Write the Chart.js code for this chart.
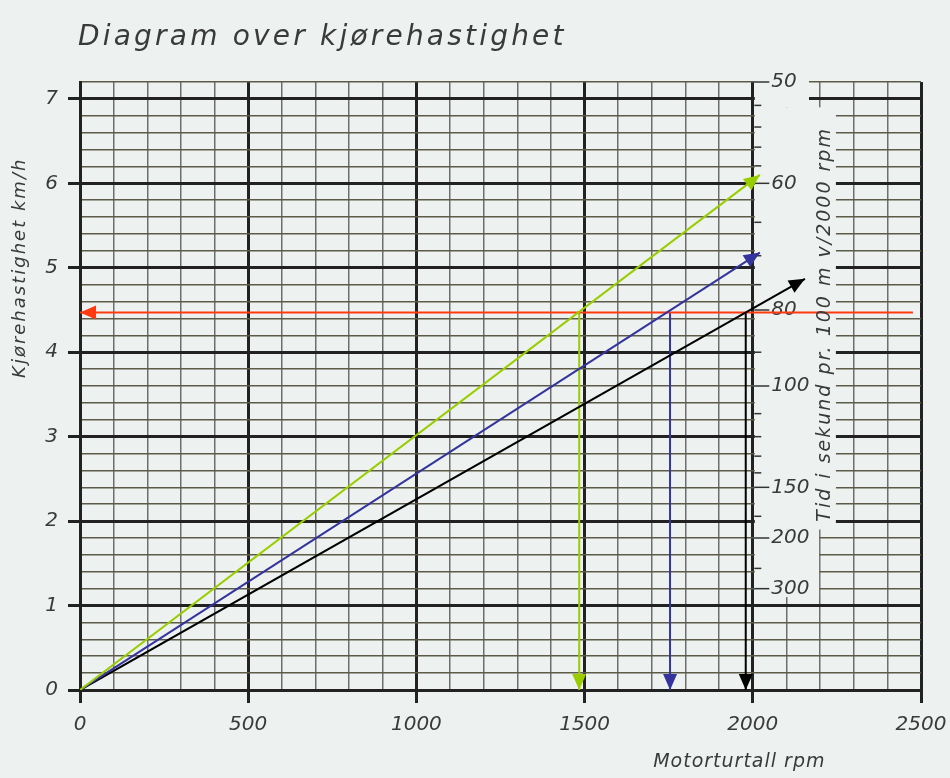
<!DOCTYPE html>
<html>
<head>
<meta charset="utf-8">
<script src="https://cdn.jsdelivr.net/npm/chart.js@4.4.1/dist/chart.umd.min.js"></script>
<style>
html, body { margin: 0; padding: 0; background: #edf2f1; }
canvas { display: block; }
</style>
</head>
<body>
<canvas id="chart" width="950" height="778"></canvas>
<script>
// axis ticks
const rpmLabels = [0, 500, 1000, 1500, 2000, 2500];
const speedLabels = [0, 1, 2, 3, 4, 5, 6, 7];

// right hand scale: seconds per 100 m at 2000 rpm
const timeLabels = [50, 60, 80, 100, 150, 200, 300];
const timeMarks = [52, 54, 56, 58, 65, 70, 75, 90, 110, 120, 130, 140, 175, 250];

// lines (rpm, km/h)
const greenX = [0, 2021];
const greenY = [0, 6.1];
const blueX = [0, 2021];
const blueY = [0, 5.18];
const blackX = [0, 2155];
const blackY = [0, 4.87];
const redX = [2476, 0];
const redY = [4.47, 4.47];
const greenDropX = [1484, 1484];
const blueDropX = [1754, 1754];
const blackDropX = [1979, 1979];
const dropY = [4.47, 0];

const bg = '#edf2f1';
const textColor = '#3a3a3a';
const fontFamily = '"DejaVu Sans", sans-serif';

const toPoints = (xs, ys) => xs.map((v, i) => ({ x: v, y: ys[i] }));
const isWhole = (v, step) => Math.abs(v / step - Math.round(v / step)) < 1e-6;

function lineSet(xs, ys, color) {
    return {
        data: toPoints(xs, ys),
        showLine: true,
        borderColor: color,
        backgroundColor: color,
        borderWidth: 2,
        pointRadius: 0
    };
}

// blank the band right of 2000 rpm where the time scale sits, then draw that scale
const gapPlugin = {
    id: 'gap',
    beforeDatasetsDraw(chart) {
        const { ctx, scales: { x, y } } = chart;
        const left = x.getPixelForValue(2000) + 2;
        ctx.save();
        ctx.fillStyle = bg;
        const blank = (xEnd, yLow, yHigh) => {
            const right = x.getPixelForValue(xEnd) - 1;
            const top = y.getPixelForValue(yHigh);
            const bottom = y.getPixelForValue(yLow);
            ctx.fillRect(left, top, right - left, bottom - top);
        };
        blank(2250, 1.9, 6.9);
        blank(2200, 1.1, 1.9);
        blank(2170, 6.9, 7.3);

        const xr = x.getPixelForValue(2000) + 1.5;
        ctx.strokeStyle = '#333';
        ctx.lineWidth = 1.5;
        timeMarks.forEach(t => {
            const py = y.getPixelForValue(360 / t);
            ctx.beginPath(); ctx.moveTo(xr, py); ctx.lineTo(xr + 7, py); ctx.stroke();
        });
        ctx.font = 'italic 20px ' + fontFamily;
        ctx.fillStyle = textColor;
        ctx.textAlign = 'left';
        ctx.textBaseline = 'middle';
        timeLabels.forEach(t => {
            const py = y.getPixelForValue(360 / t);
            ctx.beginPath(); ctx.moveTo(xr, py); ctx.lineTo(xr + 15, py); ctx.stroke();
            ctx.fillText(String(t), xr + 17, py);
        });
        ctx.restore();
    },
    afterDraw(chart) {
        const { ctx, scales: { x, y } } = chart;
        ctx.save();
        ctx.fillStyle = textColor;
        ctx.textBaseline = 'middle';

        // main title
        ctx.font = 'italic 28px ' + fontFamily;
        ctx.letterSpacing = '3.2px';
        ctx.textAlign = 'left';
        ctx.fillText('Diagram over kjørehastighet', 78, 38);

        // x axis title
        ctx.font = 'italic 19px ' + fontFamily;
        ctx.letterSpacing = '1px';
        ctx.textAlign = 'center';
        ctx.fillText('Motorturtall rpm', x.getPixelForValue(1960), 762);

        // left axis title
        ctx.save();
        ctx.translate(20, y.getPixelForValue(5.0));
        ctx.rotate(-Math.PI / 2);
        ctx.font = 'italic 18px ' + fontFamily;
        ctx.letterSpacing = '2px';
        ctx.fillText('Kjørehastighet km/h', 0, 0);
        ctx.restore();

        // right axis title
        ctx.save();
        ctx.translate(x.getPixelForValue(2215), y.getPixelForValue(4.33));
        ctx.rotate(-Math.PI / 2);
        ctx.font = 'italic 19px ' + fontFamily;
        ctx.letterSpacing = '2px';
        ctx.fillText('Tid i sekund pr. 100 m v/2000 rpm', 0, 0);
        ctx.restore();

        ctx.restore();
    }
};

// filled arrow head at the last point of every line
const arrowPlugin = {
    id: 'arrows',
    afterDatasetsDraw(chart) {
        const ctx = chart.ctx;
        chart.data.datasets.forEach((ds, i) => {
            const pts = chart.getDatasetMeta(i).data;
            const a = pts[pts.length - 2];
            const b = pts[pts.length - 1];
            const ang = Math.atan2(b.y - a.y, b.x - a.x);
            ctx.save();
            ctx.translate(b.x, b.y);
            ctx.rotate(ang);
            ctx.beginPath();
            ctx.moveTo(0, 0);
            ctx.lineTo(-16, -7);
            ctx.lineTo(-16, 7);
            ctx.closePath();
            ctx.fillStyle = ds.borderColor;
            ctx.fill();
            ctx.restore();
        });
    }
};

new Chart(document.getElementById('chart'), {
    type: 'scatter',
    data: {
        datasets: [
            lineSet(greenX, greenY, '#9acd00'),
            lineSet(blueX, blueY, '#34349c'),
            lineSet(blackX, blackY, '#000000'),
            lineSet(redX, redY, '#ff3a12'),
            lineSet(greenDropX, dropY, '#9acd00'),
            lineSet(blueDropX, dropY, '#34349c'),
            lineSet(blackDropX, dropY, '#000000')
        ]
    },
    options: {
        responsive: false,
        animation: false,
        layout: { padding: { top: 82, right: 29, left: 0, bottom: 0 } },
        plugins: {
            legend: { display: false },
            tooltip: { enabled: false }
        },
        scales: {
            x: {
                type: 'linear',
                min: rpmLabels[0],
                max: rpmLabels[rpmLabels.length - 1],
                afterFit: scale => {
                    scale.height = 88;
                    scale.paddingRight = 0;
                    scale.paddingLeft = 0;
                },
                border: { display: true, color: '#222', width: 3 },
                grid: {
                    color: c => isWhole(c.tick.value, 500) ? '#222' : '#6e6e6e',
                    lineWidth: c => isWhole(c.tick.value, 500) ? 3 : 1.5,
                    tickColor: c => isWhole(c.tick.value, 500) ? '#222' : 'rgba(0,0,0,0)',
                    tickWidth: 3,
                    tickLength: 13
                },
                ticks: {
                    stepSize: 100,
                    autoSkip: false,
                    maxRotation: 0,
                    padding: 10,
                    color: textColor,
                    font: { family: fontFamily, size: 20, style: 'italic' },
                    callback: v => rpmLabels.includes(v) ? String(v) : ''
                }
            },
            y: {
                type: 'linear',
                min: 0,
                max: 7.2,
                afterFit: scale => { scale.width = 80; },
                border: { display: true, color: '#222', width: 3 },
                grid: {
                    color: c => isWhole(c.tick.value, 1) ? '#222' : '#5c5b48',
                    lineWidth: c => isWhole(c.tick.value, 1) ? 3 : 1.5,
                    tickColor: c => isWhole(c.tick.value, 1) ? '#222' : 'rgba(0,0,0,0)',
                    tickWidth: 3,
                    tickLength: 12
                },
                ticks: {
                    stepSize: 0.2,
                    autoSkip: false,
                    padding: 10,
                    color: textColor,
                    font: { family: fontFamily, size: 20, style: 'italic' },
                    callback: v => {
                        const r = Math.round(v);
                        return isWhole(v, 1) && speedLabels.includes(r) ? String(r) : '';
                    }
                }
            }
        }
    },
    plugins: [gapPlugin, arrowPlugin]
});
</script>
</body>
</html>
